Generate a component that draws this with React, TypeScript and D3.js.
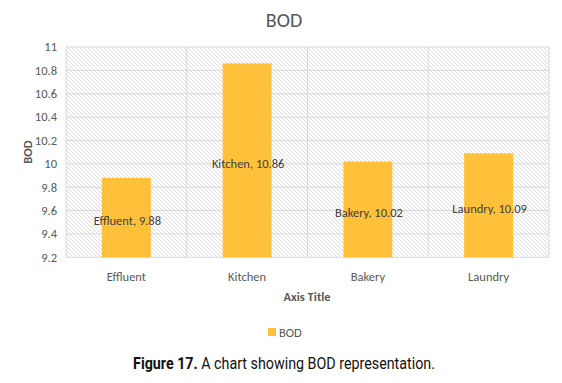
import React, { useLayoutEffect, useRef, useState } from "react";
import * as d3 from "d3";

const categories = ["Effluent", "Kitchen", "Bakery", "Laundry"];
const values = [9.88, 10.86, 10.02, 10.09];
const yTicks = [9.2, 9.4, 9.6, 9.8, 10, 10.2, 10.4, 10.6, 10.8, 11];
const seriesName = "BOD";
const captionBold = "Figure 17.";
const captionRest = " A chart showing BOD representation.";

const W = 562, H = 383;
const left = 66, right = 549, top = 47, bottom = 257.3;
const font = "Carlito, Calibri, 'Liberation Sans', Arial, sans-serif";
const gray = "#595959";
const barColor = "#FFC03A";
const captionWidth = 302;
const captionCenter = 284;

export default function App() {
  const capRef = useRef<SVGTextElement>(null);
  const [sx, setSx] = useState(0.87);
  useLayoutEffect(() => {
    if (capRef.current) {
      const w = capRef.current.getComputedTextLength();
      if (w > 0) setSx(captionWidth / w);
    }
  }, []);
  const x = d3.scaleBand<string>().domain(categories).range([left, right]).paddingInner(0.595).paddingOuter(0.2975);
  const xOuter = d3.scaleBand<string>().domain(categories).range([left, right]);
  const y = d3.scaleLinear().domain([9.2, 11]).range([bottom, top]);
  return (
    <svg width={W} height={H} style={{ position: "absolute", left: 0, top: 0, background: "#fff" }}>
      <defs>
        <pattern id="hatch" width="4" height="4" patternUnits="userSpaceOnUse">
          <path d="M-1,-1 L5,5 M3,-1 L5,1 M-1,3 L1,5" stroke="#d4d4d4" strokeWidth="0.8" />
        </pattern>
      </defs>
      <rect x={0} y={0} width={W} height={H} fill="#fff" />
      <text x={284} y={27} textAnchor="middle" fontFamily={font} fontSize={20} fill={gray}>{seriesName}</text>
      <rect x={left} y={top} width={right - left} height={bottom - top} fill="url(#hatch)" />
      {yTicks.map((t) => (
        <g key={t}>
          <line x1={left} x2={right} y1={y(t)} y2={y(t)} stroke="#d9d9d9" strokeWidth={1} />
          <text x={57} y={y(t)} dy="0.35em" textAnchor="end" fontFamily={font} fontSize={12.5} fill={gray}>{t}</text>
        </g>
      ))}
      {categories.map((c) => (
        <line key={c} x1={xOuter(c)} x2={xOuter(c)} y1={top} y2={bottom} stroke="#d9d9d9" strokeWidth={1} />
      ))}
      <line x1={right} x2={right} y1={top} y2={bottom} stroke="#d9d9d9" strokeWidth={1} />
      {categories.map((c, i) => (
        <rect key={c} x={x(c)} y={y(values[i])} width={x.bandwidth()} height={bottom - y(values[i])} fill={barColor} />
      ))}
      {categories.map((c, i) => (
        <text key={c} x={(x(c) as number) + x.bandwidth() / 2 + 1} y={(y(values[i]) + bottom) / 2 + 3} dy="0.35em" textAnchor="middle" fontFamily={font} fontSize={12.5} fill="#404040">
          {c}, {values[i]}
        </text>
      ))}
      {categories.map((c) => (
        <text key={c} x={(x(c) as number) + x.bandwidth() / 2} y={277} dy="0.35em" textAnchor="middle" fontFamily={font} fontSize={12.5} fill={gray}>{c}</text>
      ))}
      <text x={307} y={297} dy="0.35em" textAnchor="middle" fontFamily={font} fontSize={12.5} fontWeight="bold" fill={gray}>Axis Title</text>
      <text transform={`translate(28,152) rotate(-90)`} dy="0.35em" textAnchor="middle" fontFamily={font} fontSize={12.5} fontWeight="bold" fill={gray}>{seriesName}</text>
      <rect x={268} y={328} width={8} height={8} fill={barColor} />
      <text x={279} y={333} dy="0.35em" fontFamily={font} fontSize={12.5} fill={gray}>{seriesName}</text>
      <g transform={`translate(${captionCenter},363) scale(${sx},1)`}>
        <text ref={capRef} x={0} y={0} dy="0.35em" textAnchor="middle" fontFamily="Roboto, 'Liberation Sans', sans-serif" fontSize={17} fill="#111" style={{ whiteSpace: "pre" }}>
          <tspan fontWeight="bold">{captionBold}</tspan>{captionRest}
        </text>
      </g>
    </svg>
  );
}
